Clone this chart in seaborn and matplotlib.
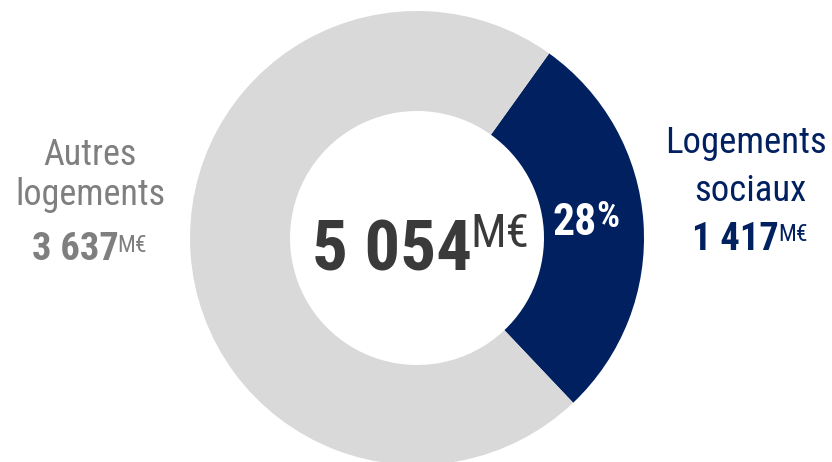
import matplotlib
matplotlib.use("Agg")
import matplotlib.pyplot as plt
import seaborn as sns

# data (M€)
labels = ["Logements\nsociaux", "Autres\nlogements"]
values = [1417, 3637]
colors = ["#002060", "#D9D9D9"]
text_colors = ["#002060", "#7F7F7F"]

sns.set_theme(style="white")
plt.rcParams["font.family"] = ["Roboto Condensed", "Archivo Narrow", "PT Sans Narrow",
                               "Liberation Sans Narrow", "DejaVu Sans"]

W, H = 832, 462
fig = plt.figure(figsize=(W / 100, H / 100), dpi=100)
ax = fig.add_axes([0, 0, 1, 1])


def py(y):
    # pixel row from the top -> data y
    return H - y


cx, cy, R, ring = 417, 238, 227, 100
ax.pie(values, colors=colors, startangle=54.4, counterclock=False,
       center=(cx, py(cy)), radius=R, frame=True,
       wedgeprops=dict(width=ring, linewidth=0))
ax.set_xlim(0, W)
ax.set_ylim(0, H)
ax.axis("off")

fig.canvas.draw()
renderer = fig.canvas.get_renderer()


def fmt(v):
    return f"{v:,}".replace(",", " ")


def num_unit(x_center, base, num, unit, s_num, s_unit, unit_base, color,
             unit_weight="normal", gap=0):
    t1 = ax.text(0, py(base), num, fontsize=s_num, fontweight="bold", color=color,
                 ha="left", va="baseline")
    t2 = ax.text(0, py(unit_base), unit, fontsize=s_unit, fontweight=unit_weight, color=color,
                 ha="left", va="baseline")
    w1 = t1.get_window_extent(renderer).width
    w2 = t2.get_window_extent(renderer).width
    x0 = x_center - (w1 + w2 + gap) / 2
    t1.set_x(x0)
    t2.set_x(x0 + w1 + gap)


total = sum(values)
pct = round(values[0] / total * 100)

# centre total
num_unit(421, 270.5, fmt(total), "M€", 51, 34, 247, "#3A3A3A", gap=-2)

# percentage on the blue wedge
num_unit(586, 235, str(pct), "%", 31.5, 26, 227, "white", unit_weight="bold", gap=-1)

# left label: Autres logements
l1, l2 = labels[1].split("\n")
ax.text(90, py(165), l1, fontsize=26, color=text_colors[1], ha="center", va="baseline")
ax.text(90, py(205), l2, fontsize=26, color=text_colors[1], ha="center", va="baseline")
num_unit(89.5, 260, fmt(values[1]), "M€", 27.7, 17, 252, text_colors[1], gap=-1)

# right label: Logements sociaux
r1, r2 = labels[0].split("\n")
ax.text(746, py(152.7), r1, fontsize=26.5, color=text_colors[0], ha="center", va="baseline")
ax.text(750, py(200.7), r2, fontsize=26.5, color=text_colors[0], ha="center", va="baseline")
num_unit(750, 250, fmt(values[0]), "M€", 27.7, 17, 241, text_colors[0], gap=-1)

fig.savefig("out.png", dpi=100, facecolor="white")
